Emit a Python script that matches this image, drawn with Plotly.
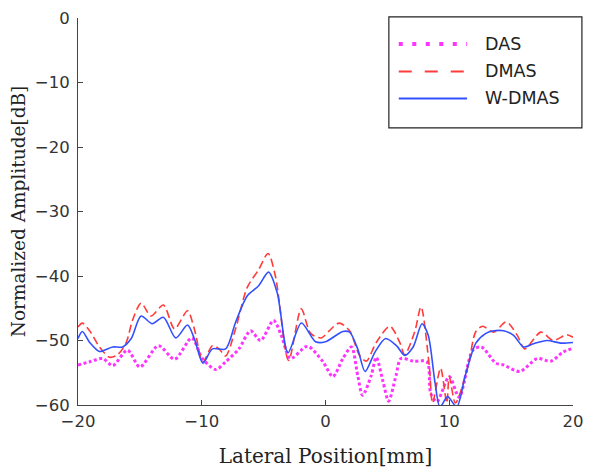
import plotly.graph_objects as go

# ---- data ----
das_x = [-20, -19.06, -18.0, -17.2, -16.0, -15.0, -13.5, -12.2, -10.8, -9.95, -8.87, -8.07, -7.0, -6.06,
         -5.25, -4.2, -3.57, -2.84, -1.64, -1.3, -0.2, 0.6, 1.4, 2.1, 2.6, 3.0, 3.7, 4.1, 4.65, 5.1, 5.7,
         6.1, 7.1, 8.2, 8.5, 9.0, 10.0, 10.8, 11.9, 12.6, 13.76, 14.4, 15.7, 17.1, 18.2, 19.2, 20]
das_y = [-53.8, -53.3, -52.8, -53.9, -51.5, -54.1, -50.8, -52.9, -49.6, -52.8, -54.5, -53.3, -51.3, -48.5,
         -50.0, -46.9, -49.2, -52.8, -51.0, -51.0, -53.3, -55.6, -52.8, -51.0, -55.4, -58.5, -55.4, -52.6, -56.4, -59.4, -55.4,
         -52.8, -53.2, -53.3, -58.2, -59.5, -55.6, -58.8, -51.5, -51.0, -53.5, -53.8, -54.8, -52.8, -53.2, -51.8, -51.2]

dmas_x = [-20, -19.65, -19.06, -18.26, -17.45, -16.8, -16.1, -15.6, -14.9, -14.1, -13.1, -12.2, -11.15, -10.6,
          -9.9, -9.14, -8.6, -8.07, -7.27, -6.33, -5.4, -4.64, -4.05, -2.98, -1.96, -1.2, -0.35, 0.3, 1.1, 1.95,
          2.75, 3.3, 4.1, 5.2, 6.0, 6.4, 7.2, 7.72, 8.39, 8.65, 9.3, 9.8, 10.0, 10.5, 11.5, 12.15, 12.7, 13.6,
          14.6, 15.5, 16.1, 17.4, 18.4, 19.5, 20]
dmas_y = [-47.9, -47.3, -48.5, -51.0, -52.6, -52.2, -50.3, -46.9, -44.2, -46.2, -44.5, -48.2, -45.4, -48.2,
          -53.3, -50.8, -51.3, -52.4, -48.2, -41.8, -39.0, -36.5, -40.0, -53.1, -45.1, -48.9, -49.6, -48.5, -47.3, -48.5,
          -52.3, -53.2, -50.3, -47.8, -50.3, -52.2, -48.7, -44.8, -54.1, -59.7, -54.3, -59.7, -55.6, -59.7, -54.1, -48.6, -47.8, -48.7,
          -47.1, -49.2, -51.3, -48.7, -50.0, -49.1, -49.5]

wdmas_x = [-20, -19.65, -19.06, -18.26, -17.2, -16.4, -15.7, -14.9, -14.0, -13.1, -12.1, -11.15, -10.6, -9.9,
           -9.14, -8.07, -7.27, -6.33, -5.4, -4.6, -3.9, -3.03, -1.95, -0.8, 0, 1.4, 1.95, 2.6, 3.2, 4.0, 4.86,
           5.73, 6.4, 7.08, 7.8, 8.3, 8.84, 9.25, 9.87, 10.6, 11.3, 12.15, 12.96, 13.6, 14.4, 15.2, 16.0, 16.8,
           17.9, 19.0, 20]
wdmas_y = [-49.7, -48.6, -50.3, -51.7, -51.0, -51.0, -49.7, -46.2, -47.4, -46.4, -49.6, -47.6, -49.7, -53.5,
           -51.3, -51.3, -47.2, -43.1, -41.5, -39.4, -42.6, -51.9, -47.3, -50.2, -50.2, -48.6, -48.7, -51.3, -54.8, -51.8, -49.7,
           -50.8, -52.3, -51.0, -47.4, -49.2, -56.4, -60.3, -58.7, -60.3, -55.4, -50.4, -48.9, -48.5, -48.5, -49.2, -51.0, -50.5,
           -50.0, -50.4, -50.3]

series_names = ["DAS", "DMAS", "W-DMAS"]
x_ticks = [-20, -10, 0, 10, 20]
y_ticks = [-60, -50, -40, -30, -20, -10, 0]

# ---- figure ----
fig = go.Figure()
fig.add_trace(go.Scatter(x=das_x, y=das_y, mode="lines", name=series_names[0],
                         line=dict(color="#ff33ff", width=3, dash="3px,2.5px", shape="spline", smoothing=0.8)))
fig.add_trace(go.Scatter(x=dmas_x, y=dmas_y, mode="lines", name=series_names[1],
                         line=dict(color="#ff3b3b", width=1.6, dash="8px,4px", shape="spline", smoothing=0.8)))
fig.add_trace(go.Scatter(x=wdmas_x, y=wdmas_y, mode="lines", name=series_names[2],
                         line=dict(color="#3350ff", width=1.6, shape="spline", smoothing=0.8)))

axis_common = dict(showgrid=False, zeroline=False, showline=True, linecolor="#444", linewidth=1,
                   ticks="inside", ticklen=5, tickcolor="#444", mirror=False, automargin=False,
                   tickfont=dict(family="DejaVu Sans", size=16.5, color="#333"))

fig.update_layout(
    width=590, height=470,
    margin=dict(l=78, r=17, t=18, b=65, autoexpand=False),
    plot_bgcolor="white", paper_bgcolor="white",
    showlegend=False,
    xaxis=dict(range=[-20, 20], tickvals=x_ticks, ticklabelstandoff=1,
               title=dict(text="Lateral Position[mm]", standoff=19,
                          font=dict(family="DejaVu Serif", size=20, color="#222")),
               **axis_common),
    yaxis=dict(range=[-60, 0], tickvals=y_ticks, ticklabelstandoff=4,
               title=dict(text="Normalized Amplitude[dB]", standoff=4,
                          font=dict(family="DejaVu Serif", size=18.5, color="#222")),
               **axis_common),
)

# ---- legend box drawn manually (paper coords) ----
fig.add_shape(type="rect", xref="paper", yref="paper", x0=0.628, x1=1.018, y0=0.716, y1=1.003,
              line=dict(color="#222", width=1.2), fillcolor="white", layer="above")
leg_y = [0.933, 0.862, 0.792]
leg_styles = [dict(color="#ff33ff", width=4, dash="4px,9.5px"),
              dict(color="#ff3b3b", width=2, dash="13px,13px"),
              dict(color="#3350ff", width=2)]
for name, yy, st in zip(series_names, leg_y, leg_styles):
    fig.add_shape(type="line", xref="paper", yref="paper", x0=0.648, x1=0.786, y0=yy, y1=yy,
                  line=st, layer="above")
    fig.add_annotation(xref="paper", yref="paper", x=0.818, y=yy, text=name, showarrow=False,
                       xanchor="left", yanchor="middle",
                       font=dict(family="DejaVu Sans", size=17.5, color="#222"))

fig.write_html("out.html", config={"displayModeBar": False},
               post_script="document.body.style.margin='0';")
